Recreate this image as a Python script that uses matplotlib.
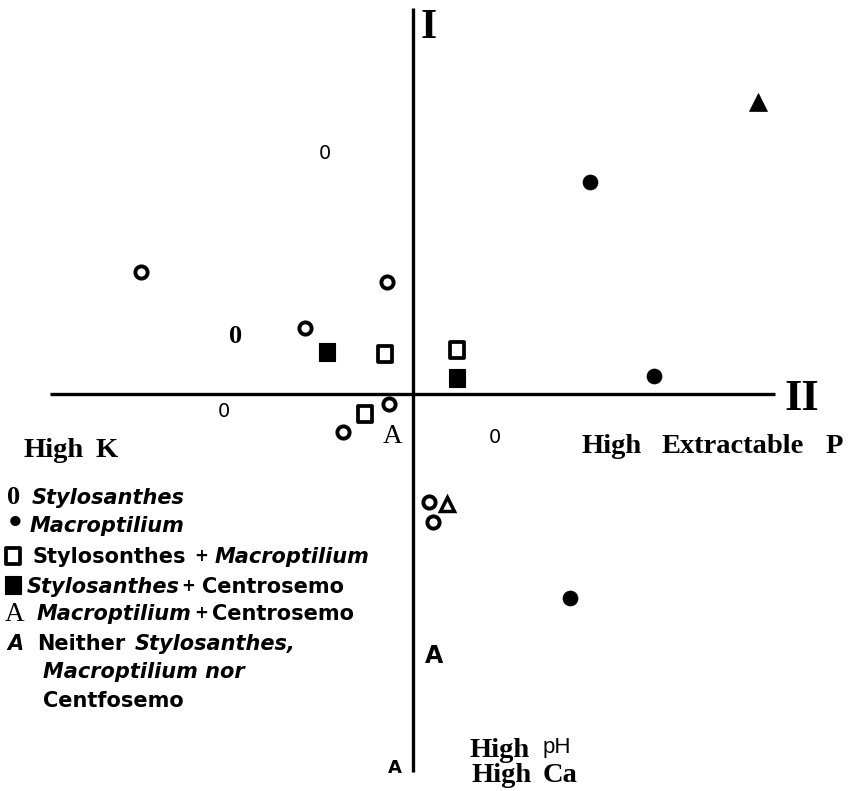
import matplotlib
matplotlib.use("Agg")
import matplotlib.pyplot as plt
from matplotlib.path import Path
from matplotlib.lines import Line2D
from matplotlib.transforms import IdentityTransform

# ---------------- data: ordination scores (axis II horizontal, axis I vertical)
stylo_x = [-2.72, -0.26, -1.08, -0.24, -0.70, 0.16, 0.20]
stylo_y = [1.22, 1.12, 0.66, -0.10, -0.38, -1.08, -1.28]
macro_x = [1.76, 2.40, 1.56]
macro_y = [2.12, 0.18, -2.04]
stylo_macro_x = [-0.28, 0.44, -0.48]
stylo_macro_y = [0.40, 0.44, -0.20]
stylo_centro_x = [-0.86, 0.44]
stylo_centro_y = [0.42, 0.16]
macro_centro_x = [0.34]
macro_centro_y = [-1.10]
neither_x = [3.44]
neither_y = [2.92]

# stray characters printed in the plot area (text, x, y, style key)
stray_text = ["0", "0", "0", "A", "0", "A", "A"]
stray_x = [-0.885, -1.775, -1.895, -0.205, 0.815, 0.205, -0.185]
stray_y = [2.345, 0.505, -0.235, -0.495, -0.495, -2.695, -3.795]
stray_style = ["sans", "serifb", "sans", "serif", "sans", "sansb", "sansb_s"]

W, H = 857, 791
fig = plt.figure(figsize=(W / 100, H / 100), dpi=100)
ax = fig.add_axes([0, 0, 1, 1])
ax.set_xlim(-4.135, 4.435)
ax.set_ylim(-3.975, 3.935)
ax.set_axis_off()

# axes of the ordination
ax.hlines(0, -3.635, 3.615, color="black", lw=2.4)
ax.vlines(0, -3.785, 3.855, color="black", lw=2.4)

rect = Path([(-0.41, -0.5), (0.41, -0.5), (0.41, 0.5), (-0.41, 0.5), (-0.41, -0.5)],
            [Path.MOVETO, Path.LINETO, Path.LINETO, Path.LINETO, Path.CLOSEPOLY])

st_open_circle = dict(ls="none", marker="o", ms=8.8, mfc="white", mec="black", mew=2.8)
st_fill_circle = dict(ls="none", marker="o", ms=10.8, mfc="black", mec="black", mew=0.5)
st_open_rect = dict(ls="none", marker=rect, ms=12, mfc="white", mec="black", mew=2.7)
st_fill_rect = dict(ls="none", marker=rect, ms=13.5, mfc="black", mec="black", mew=0.8)
st_open_tri = dict(ls="none", marker="^", ms=9.5, mfc="white", mec="black", mew=2.5)
st_fill_tri = dict(ls="none", marker="^", ms=13, mfc="black", mec="black", mew=0.5)

ax.plot(stylo_x, stylo_y, **st_open_circle)
ax.plot(macro_x, macro_y, **st_fill_circle)
ax.plot(stylo_macro_x, stylo_macro_y, **st_open_rect)
ax.plot(stylo_centro_x, stylo_centro_y, **st_fill_rect)
ax.plot(macro_centro_x, macro_centro_y, **st_open_tri)
ax.plot(neither_x, neither_y, **st_fill_tri)

styles = {
    "sans": dict(family="DejaVu Sans", size=14),
    "serifb": dict(family="Liberation Serif", weight="bold", size=19),
    "serif": dict(family="Liberation Serif", size=19.5),
    "sansb": dict(family="DejaVu Sans", weight="bold", size=17),
    "sansb_s": dict(family="DejaVu Sans", weight="bold", size=13),
}
for s, x, y, k in zip(stray_text, stray_x, stray_y, stray_style):
    ax.text(x, y, s, ha="center", va="baseline", **styles[k])

# ---------------- page text, placed in pixel coordinates (top-left origin)
def put(x, base, s, **kw):
    return fig.text(x, H - base, s, transform=IdentityTransform(),
                    ha="left", va="baseline", **kw)

B = dict(family="DejaVu Sans", weight="bold", size=15)
BI = dict(family="DejaVu Sans", weight="bold", style="italic", size=15)
PLUS = dict(family="DejaVu Sans", weight="bold", size=12)
SB = dict(family="Liberation Serif", weight="bold", size=20.5)

put(421, 38, "I", family="Liberation Serif", weight="bold", size=30)
put(784, 410, "II", family="Liberation Serif", weight="bold", size=32)

put(23, 457, "High", **SB)
put(96, 457, "K", **SB)
put(582, 453, "High", **SB)
put(662, 453, "Extractable", **SB)
put(826, 453, "P", **SB)
put(470, 757, "High", **SB)
put(543, 753, "pH", family="Liberation Sans", size=16)
put(472, 782, "High", **SB)
put(543, 782, "Ca", **SB)

# legend
put(7, 504, "0", family="Liberation Serif", weight="bold", size=19)
put(32, 504, "Stylosanthes", **BI)
put(6, 532, "\u2022", family="DejaVu Sans", weight="bold", size=21)
put(30, 532, "Macroptilium", **BI)
fig.add_artist(Line2D([12.5], [H - 556], transform=IdentityTransform(), **st_open_rect))
put(32, 563, "Stylosonthes", **B)
put(194, 561, "+", **PLUS)
put(215, 563, "Macroptilium", **BI)
fig.add_artist(Line2D([12.5], [H - 585], transform=IdentityTransform(), **st_fill_rect))
put(27, 593, "Stylosanthes", **BI)
put(181, 591, "+", **PLUS)
put(202, 593, "Centrosemo", **B)
put(5, 621, "A", family="Liberation Serif", size=19.5)
put(37, 620, "Macroptilium", **BI)
put(194, 618, "+", **PLUS)
put(212, 620, "Centrosemo", **B)
put(7, 650, "A", **BI)
put(37, 650, "Neither", **B)
put(135, 650, "Stylosanthes,", **BI)
put(43, 678, "Macroptilium nor", **BI)
put(43, 707, "Centfosemo", **B)

fig.savefig("out.png", dpi=100, facecolor="white")
